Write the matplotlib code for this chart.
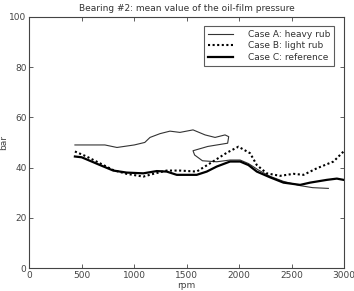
import matplotlib
matplotlib.use("Agg")
import matplotlib.pyplot as plt

# Case A: heavy rub (path doubles back on itself)
rpm_a = [434, 600, 720, 835, 1000, 1100, 1150, 1245, 1340, 1435, 1560, 1675, 1770, 1865, 1900, 1895,
         1890, 1700, 1560, 1575, 1650, 1786, 1913, 2009, 2088, 2184, 2295, 2422, 2581, 2700, 2850]
p_a = [49.0, 49.0, 49.0, 48.0, 49.0, 50.0, 52.0, 53.5, 54.5, 54.0, 55.0, 53.0, 52.0, 53.0, 52.3, 51.0,
       49.7, 48.4, 46.7, 45.0, 42.7, 42.3, 43.0, 43.0, 41.6, 39.0, 36.5, 34.5, 32.8, 32.0, 31.7]

# Case B: light rub
rpm_b = [434, 545, 673, 800, 927, 1086, 1182, 1309, 1436, 1595, 1723, 1882, 1993, 2104, 2168,
         2263, 2390, 2518, 2613, 2740, 2899, 2995]
p_b = [46.4, 44.4, 41.7, 39.0, 37.5, 36.4, 37.5, 38.8, 38.8, 38.4, 41.7, 45.9, 48.3, 45.7, 41.0,
       37.7, 36.7, 37.5, 37.1, 39.7, 42.4, 46.4]

# Case C: reference
rpm_c = [434, 498, 673, 800, 927, 1086, 1214, 1309, 1405, 1595, 1691, 1786, 1913, 2009, 2088, 2168,
         2295, 2422, 2581, 2676, 2836, 2931, 2995]
p_c = [44.4, 44.1, 41.0, 38.8, 38.0, 37.7, 38.6, 38.4, 37.1, 37.1, 38.4, 40.4, 42.4, 42.4, 41.0, 38.4,
       36.1, 34.0, 33.1, 34.0, 35.1, 35.6, 35.1]

xticks = [0, 500, 1000, 1500, 2000, 2500, 3000]
yticks = [0, 20, 40, 60, 80, 100]

fig = plt.figure(figsize=(3.54, 2.91), dpi=100)
ax = fig.add_axes([0.083, 0.079, 0.889, 0.863])

ax.plot(rpm_a, p_a, color="#333333", lw=0.8, label="Case A: heavy rub")
ax.plot(rpm_b, p_b, color="black", lw=1.5, linestyle=(0, (1, 1.2)), label="Case B: light rub")
ax.plot(rpm_c, p_c, color="black", lw=1.6, label="Case C: reference")

ax.set_xlim(0, 3000)
ax.set_ylim(0, 100)
ax.set_xticks(xticks)
ax.set_yticks(yticks)
ax.tick_params(direction="in", top=True, right=True, labelsize=6.5, colors="#444444",
               length=3, width=0.6, pad=2)
for s in ax.spines.values():
    s.set_color("#444444")
    s.set_linewidth(0.8)

ax.set_title("Bearing #2: mean value of the oil-film pressure", fontsize=6.5, color="#333333", pad=4)
ax.set_xlabel("rpm", fontsize=6.5, color="#444444", labelpad=1)
ax.set_ylabel("bar", fontsize=6.5, color="#444444", labelpad=1)

leg = ax.legend(loc="upper right", fontsize=6.5, frameon=True, fancybox=False,
                handlelength=2.8, borderpad=0.45, labelspacing=0.3, handletextpad=1.6,
                borderaxespad=0, bbox_to_anchor=(0.968, 0.965))
leg.get_frame().set_edgecolor("#333333")
leg.get_frame().set_linewidth(0.8)
for t in leg.get_texts():
    t.set_color("#333333")

fig.savefig("out.png", dpi=100)
